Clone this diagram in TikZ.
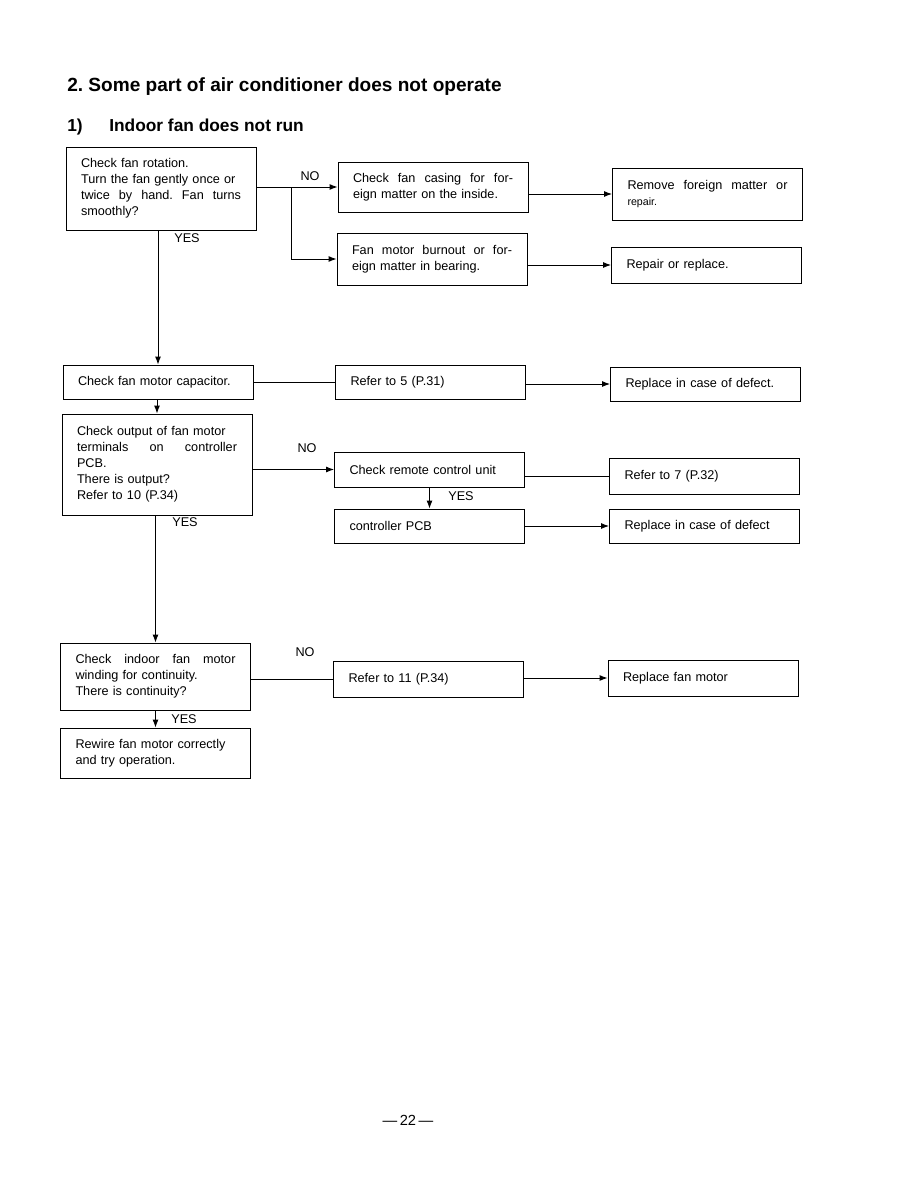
\documentclass[tikz,border=0pt]{standalone}
\usepackage{fontspec}
\setmainfont{Liberation Sans}
\usetikzlibrary{arrows.meta}
\newcommand{\fillline}[1]{\leavevmode\hbox to \hsize{#1}}

\begin{document}
\begin{tikzpicture}[x=0.75pt,y=-0.75pt,
  every node/.style={font=\fontsize{9.5}{12}\selectfont},
  box/.style={draw,line width=0.7pt,minimum width=142.5pt,text width=120pt,
    inner xsep=11.25pt,inner ysep=3pt,align=left},
  link/.style={line width=0.7pt},
  arr/.style={link,-{Latex[length=6pt,width=4.5pt]}},
  lbl/.style={inner sep=0pt}]
\useasboundingbox[fill=white] (0,0) rectangle (918,1188);

% headings
\node[anchor=base west,inner sep=0pt,font=\fontsize{14.3}{17}\selectfont\bfseries] (title) at (67,91)
  {2.~Some part of air conditioner does not operate};
\node[anchor=base west,inner sep=0pt,font=\fontsize{13}{15}\selectfont\bfseries] (num) at (67,131) {1)};
\node[anchor=base west,inner sep=0pt,font=\fontsize{13}{15}\selectfont\bfseries] (sub) at (109,131)
  {Indoor fan does not run};

% first row
\node[box,minimum height=62.25pt] (A) at (161,188.5)
  {Check fan rotation.\\ Turn the fan gently once or\\ \fillline{twice\hfill by\hfill hand.\hfill Fan\hfill turns}\\ smoothly?};
\node[box,minimum height=37.5pt] (B1) at (433,187)
  {\fillline{Check\hfill fan\hfill casing\hfill for\hfill for-}\\ eign matter on the inside.};
\node[box,minimum height=39pt] (B2) at (432,259)
  {\fillline{Fan\hfill motor\hfill burnout\hfill or\hfill for-}\\ eign matter in bearing.};
\node[box,minimum height=39pt] (C1) at (707.5,194)
  {\fillline{Remove\hfill foreign\hfill matter\hfill or}\\ {\footnotesize repair.}};
\node[box,minimum height=27pt] (C2) at (706.5,265) {Repair or replace.};

% capacitor row
\node[box,minimum height=25.5pt] (D) at (158,382) {Check fan motor capacitor.};
\node[box,minimum height=25.5pt] (E) at (430.5,382) {Refer to 5 (P.31)};
\node[box,minimum height=25.5pt] (F) at (705.5,384) {Replace in case of defect.};

% output row
\node[box,minimum height=75.75pt] (G) at (157,464.5)
  {Check output of fan motor\\ \fillline{terminals\hfill on\hfill controller}\\ PCB.\\ There is output?\\ Refer to 10 (P.34)};
\node[box,minimum height=26.25pt] (H) at (429.5,469.5) {Check remote control unit};
\node[box,minimum height=27pt] (I) at (704.5,476) {Refer to 7 (P.32)};
\node[box,minimum height=25.5pt] (J) at (429.5,526) {controller PCB};
\node[box,minimum height=25.5pt] (K) at (704.5,526) {Replace in case of defect};

% winding row
\node[box,minimum height=50.25pt] (L) at (155.5,676.5)
  {\fillline{Check\hfill indoor\hfill fan\hfill motor}\\ winding for continuity.\\ There is continuity?};
\node[box,minimum height=37.5pt] (M) at (155.5,753)
  {Rewire fan motor correctly\\ and try operation.};
\node[box,minimum height=27pt] (N) at (428.5,679) {Refer to 11 (P.34)};
\node[box,minimum height=27pt] (O) at (703,678) {Replace fan motor};

% connectors
\coordinate (split) at (291,187);
\draw[arr] (A.east |- B1.west) -- (B1.west);
\draw[arr] (split) |- (B2.west);
\draw[arr] (B1.east |- C1.west) -- (C1.west);
\draw[arr] (B2.east |- C2.west) -- (C2.west);
\draw[arr] (D.north |- A.south) -- (D.north);
\draw[link] (D.east) -- (E.west);
\draw[arr] (E.east |- F.west) -- (F.west);
\draw[arr] (G.north |- D.south) -- (G.north);
\draw[arr] (G.east |- H.west) -- (H.west);
\draw[link] (H.east |- I.west) -- (I.west);
\draw[arr] (H.south) -- (J.north);
\draw[arr] (J.east) -- (K.west);
\draw[arr] (L.north |- G.south) -- (L.north);
\draw[link] (L.east |- N.west) -- (N.west);
\draw[arr] (N.east |- O.west) -- (O.west);
\draw[arr] (L.south) -- (M.north);

% branch labels
\node[lbl] (no1) at (310,176) {NO};
\node[lbl] (yes1) at (187,238) {YES};
\node[lbl] (no2) at (307,448) {NO};
\node[lbl] (yes2) at (461,496) {YES};
\node[lbl] (yes3) at (185,522) {YES};
\node[lbl] (no3) at (305,652) {NO};
\node[lbl] (yes4) at (184,719) {YES};

\node[lbl,font=\fontsize{11}{13}\selectfont] (page) at (408,1120) {---\,22\,---};
\end{tikzpicture}
\end{document}
